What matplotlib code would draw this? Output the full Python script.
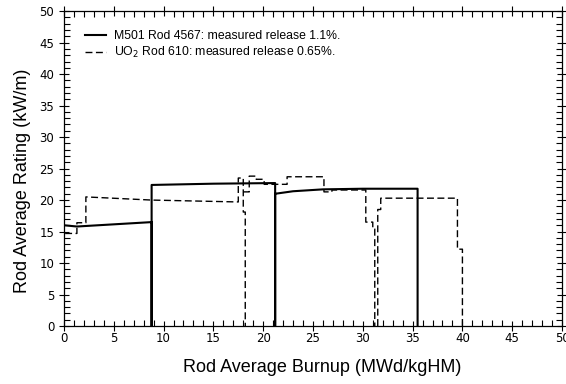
import numpy as np
import matplotlib
matplotlib.use('Agg')
import matplotlib.pyplot as plt
from matplotlib.ticker import MultipleLocator

nan = np.nan

# M501 Rod 4567 (solid)
m501_x = [0, 1.3, 8.8, 8.8, 8.8, 15.0, 21.2, 21.2, 21.2, 23.0, 26.0, 30.0, 35.5, 35.5]
m501_y = [16.0, 15.8, 16.5, 0, 22.4, 22.6, 22.7, 0, 21.0, 21.4, 21.7, 21.8, 21.8, 0]

# UO2 Rod 610 (dashed), nan breaks the line
uo2_x = [0, 0, 1.3, 1.3, 2.2, 2.2, 8.8, 17.5, 17.5, 18.0, 18.0, 18.2, 18.2, nan,
         18.0, 18.6, 18.6, 19.3, 19.3, 20.1, 20.1, 22.4, 22.4, 26.1, 26.1, 26.9, 26.9,
         30.3, 30.3, 31.0, 31.0, 31.2, 31.2, nan,
         31.5, 31.5, 31.8, 31.8, 39.5, 39.5, 40.0, 40.0]
uo2_y = [0, 14.7, 14.7, 16.4, 16.4, 20.5, 20.0, 19.7, 23.5, 23.5, 18.1, 18.1, 0, nan,
         21.3, 21.3, 23.8, 23.8, 23.3, 23.3, 22.5, 22.5, 23.7, 23.7, 21.3, 21.3, 21.6,
         21.6, 16.5, 16.5, 15.4, 15.4, 0, nan,
         0, 18.5, 18.5, 20.3, 20.3, 12.2, 12.2, 0]

fig = plt.figure(figsize=(5.66, 3.84), dpi=100)
ax = fig.add_axes([0.113, 0.151, 0.880, 0.820])

ax.plot(m501_x, m501_y, color='black', lw=1.5, label='M501 Rod 4567: measured release 1.1%.')
ax.plot(uo2_x, uo2_y, color='black', lw=1.0, ls=(0, (5, 2.5)),
        label='UO$_2$ Rod 610: measured release 0.65%.')

ax.set_xlim(0, 50)
ax.set_ylim(0, 50)
ax.xaxis.set_major_locator(MultipleLocator(5))
ax.yaxis.set_major_locator(MultipleLocator(5))
ax.xaxis.set_minor_locator(MultipleLocator(1))
ax.yaxis.set_minor_locator(MultipleLocator(1))
ax.tick_params(which='major', direction='inout', length=7, width=0.8,
               top=True, right=True, labelsize=8.5)
ax.tick_params(which='minor', direction='in', length=4, width=0.8, top=True, right=True)
ax.tick_params(axis='x', pad=1)
for s in ax.spines.values():
    s.set_linewidth(0.9)

ax.set_xlabel('Rod Average Burnup (MWd/kgHM)', family='Liberation Sans', fontsize=13)
ax.set_ylabel('Rod Average Rating (kW/m)', family='Liberation Sans', fontsize=13)
ax.xaxis.set_label_coords(0.518, -0.105)
ax.yaxis.set_label_coords(-0.066, 0.46)

leg = ax.legend(loc='upper left', frameon=False,
                prop={'family': 'Liberation Sans', 'size': 8.8},
                handlelength=1.7, handletextpad=0.7, labelspacing=0.25,
                bbox_to_anchor=(0.02, 0.975))

fig.savefig('out.png', dpi=100)
